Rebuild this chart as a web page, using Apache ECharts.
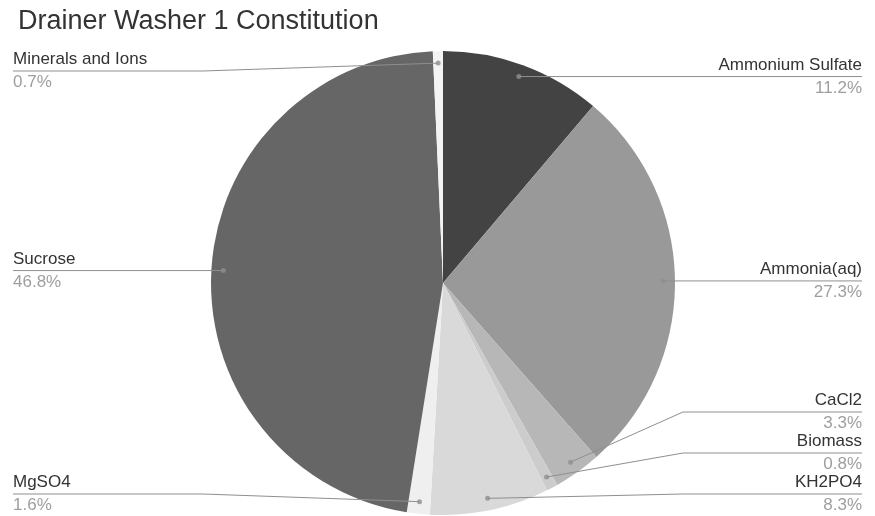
<!DOCTYPE html>
<html><head><meta charset="utf-8">
<script src="https://cdn.jsdelivr.net/npm/echarts@6/dist/echarts.min.js"></script>
<style>html,body{margin:0;padding:0;background:#fff}#c{width:875px;height:516px}</style>
</head><body><div id="c"></div>
<script>
const chartTitle = 'Drainer Washer 1 Constitution';
const categories = ['Ammonium Sulfate','Ammonia(aq)','CaCl2','Biomass','KH2PO4','MgSO4','Sucrose','Minerals and Ions'];
const values = [11.2, 27.3, 3.3, 0.8, 8.3, 1.6, 46.8, 0.7];
const colors = ['#434343','#999999','#b7b7b7','#cccccc','#d9d9d9','#efefef','#666666','#f3f3f3'];

const FONT = '"Liberation Sans", Arial, sans-serif';
const CX = 443, CY = 283, R = 232, DOT = 0.948;
const total = values.reduce((a, b) => a + b, 0);
let acc = 0;
const mids = values.map(v => { const m = acc + v / 2; acc += v; return m / total * 100; });
const dots = mids.map(m => { const a = m / 100 * 2 * Math.PI; return [CX + R * DOT * Math.sin(a), CY - R * DOT * Math.cos(a)]; });

const LEFT_X = 13, RIGHT_X = 862, GAP = 41, YMIN = 71, YMAX = 494, ELBOW = 240;
const lineY = new Array(values.length);
['L', 'R'].forEach(side => {
  const idx = dots.map((d, i) => i)
    .filter(i => side === 'L' ? dots[i][0] < CX : dots[i][0] >= CX)
    .sort((a, b) => dots[a][1] - dots[b][1]);
  const ys = idx.map(i => Math.min(YMAX, Math.max(YMIN, dots[i][1])));
  for (let k = 1; k < ys.length; k++) if (ys[k] < ys[k - 1] + GAP) ys[k] = ys[k - 1] + GAP;
  if (ys.length && ys[ys.length - 1] > YMAX) ys[ys.length - 1] = YMAX;
  for (let k = ys.length - 2; k >= 0; k--) if (ys[k] > ys[k + 1] - GAP) ys[k] = ys[k + 1] - GAP;
  idx.forEach((i, k) => lineY[i] = ys[k]);
});

const pieBase = {
  type: 'pie',
  center: [CX, CY],
  radius: R,
  startAngle: 90,
  clockwise: true,
  percentPrecision: 1,
  avoidLabelOverlap: false,
  emphasis: {disabled: true},
  silent: true
};

const chart = echarts.init(document.getElementById('c'), null, {renderer: 'canvas'});
chart.setOption({
  animation: false,
  backgroundColor: '#ffffff',
  title: {
    text: chartTitle, left: 13, top: 3,
    textStyle: {fontSize: 27, color: '#333333', fontWeight: 'normal', fontFamily: FONT}
  },
  polar: {center: [CX, CY], radius: R},
  angleAxis: {type: 'value', min: 0, max: 100, startAngle: 90, clockwise: true, show: false},
  radiusAxis: {type: 'value', min: 0, max: 1, show: false},
  series: [Object.assign({}, pieBase, {
    z: 2,
    data: categories.map((c, i) => ({name: c, value: values[i], itemStyle: {color: colors[i]}})),
    label: {show: false},
    labelLine: {show: false}
  }), Object.assign({}, pieBase, {
    z: 5,
    data: categories.map((c, i) => ({name: c, value: values[i], itemStyle: {color: 'rgba(0,0,0,0)'}})),
    label: {
      show: true, position: 'outer',
      formatter: '{n|{b}}\n{p|{d}%}',
      rich: {
        n: {fontSize: 17, color: '#333333', lineHeight: 23, fontFamily: FONT},
        p: {fontSize: 17, color: '#9e9e9e', lineHeight: 23, fontFamily: FONT}
      }
    },
    labelLine: {show: true, smooth: false, lineStyle: {color: '#8f8f8f', width: 1}},
    labelLayout: function (p) {
      const i = p.dataIndex;
      const left = dots[i][0] < CX;
      const y = lineY[i];
      const ex = left ? CX - ELBOW : CX + ELBOW;
      const tx = left ? LEFT_X : RIGHT_X;
      return {
        x: tx, y: y, align: left ? 'left' : 'right', verticalAlign: 'middle',
        labelLinePoints: [[dots[i][0], dots[i][1]], [ex, y], [tx, y]]
      };
    }
  }), {
    type: 'scatter',
    coordinateSystem: 'polar',
    data: mids.map(m => [DOT, m]),
    symbolSize: 5,
    itemStyle: {color: '#8f8f8f'},
    z: 10,
    silent: true
  }]
});
</script></body></html>
